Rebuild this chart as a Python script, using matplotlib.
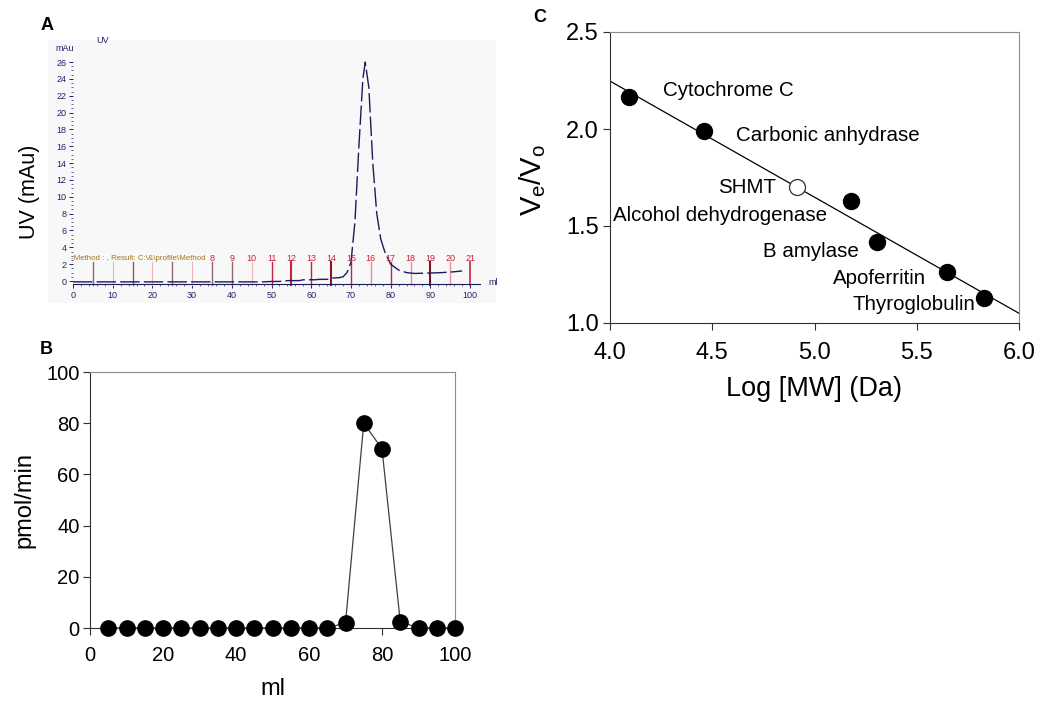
import matplotlib
matplotlib.use("Agg")
import matplotlib.pyplot as plt
from matplotlib.patches import Rectangle
import numpy as np

plt.rcParams['font.family'] = ['Liberation Sans', 'DejaVu Sans']
plt.rcParams['mathtext.fontset'] = 'custom'
plt.rcParams['mathtext.rm'] = 'Liberation Sans'
plt.rcParams['mathtext.it'] = 'Liberation Sans'

# ---------------- Data ----------------
# Panel A: UV chromatogram (ml, mAu)
uv_ml = [0, 3, 8, 15, 17, 30, 48, 50, 52, 54, 57, 58, 61, 62, 64, 65, 67, 68, 69, 70,
         71, 72, 73, 73.6, 74.5, 75.5, 76.5, 77.5, 78.5, 80, 82, 84, 86, 90, 93, 96, 98]
uv_mau = [-0.1, -0.1, -0.1, -0.1, -0.1, -0.1, -0.1, -0.05, -0.05, 0.05, 0.05, 0.15, 0.15,
          0.2, 0.2, 0.35, 0.4, 0.5, 1.0, 2.2, 7, 16, 24, 26, 23, 14, 8, 5, 3.5, 2.0,
          1.3, 1.0, 0.9, 0.95, 1.0, 1.1, 1.2]
frac_ml = [5, 10, 15, 20, 25, 30, 35, 40, 45, 50, 55, 60, 65, 70, 75, 80, 85, 90, 95, 100]
frac_labels = ['8', '9', '10', '11', '12', '13', '14', '15', '16', '17', '18', '19', '20', '21']
frac_label_ml = [35, 40, 45, 50, 55, 60, 65, 70, 75, 80, 85, 90, 95, 100]
method_text = "-Method : , Result: C:\\&\\profile\\Method"

# Panel B: activity
act_ml = [5, 10, 15, 20, 25, 30, 35, 40, 45, 50, 55, 60, 65, 70, 75, 80, 85, 90, 95, 100]
act_pmol = [0, 0, 0, 0, 0, 0, 0, 0, 0, 0, 0, 0, 0, 2, 80, 70, 2.5, 0, 0, 0]

# Panel C: calibration
std_names = ['Cytochrome C', 'Carbonic anhydrase', 'Alcohol dehydrogenase',
             'B amylase', 'Apoferritin', 'Thyroglobulin']
std_logmw = [4.093, 4.46, 5.177, 5.304, 5.649, 5.830]
std_vevo = [2.163, 1.99, 1.629, 1.418, 1.265, 1.131]
shmt_logmw = 4.913
shmt_vevo = 1.703
fit_x = [4.0, 6.0]
fit_y = [2.247, 1.05]
label_pos = {'Cytochrome C': (4.26, 2.2),
             'Carbonic anhydrase': (4.616, 1.969),
             'Alcohol dehydrogenase': (4.015, 1.552),
             'B amylase': (4.748, 1.366),
             'Apoferritin': (5.09, 1.227),
             'Thyroglobulin': (5.188, 1.093)}
shmt_label_pos = (4.528, 1.696)

# ---------------- Figure ----------------
fig = plt.figure(figsize=(10.5, 7.04), dpi=100)

# light grey background of the chromatogram screenshot
fig.patches.append(Rectangle((48 / 1050, 1 - 303 / 704), (496 - 48) / 1050, (303 - 40) / 704,
                             transform=fig.transFigure, facecolor='#f8f8f8',
                             edgecolor='none', zorder=-10))

# ---- Panel A ----
navy = '#22226e'
axA = fig.add_axes([73 / 1050, 1 - 284.4 / 704, 407 / 1050, (284.4 - 45.2) / 704])
axA.set_facecolor('none')
axA.plot(uv_ml, uv_mau, color='#1c1c5c', lw=1.0, ls=(0, (14, 3)), zorder=3)
frac_colors = ['#8a6a6a', '#ebb4bc', '#806060', '#ebb4bc', '#8a6a6a', '#ebb4bc', '#8a6a6a',
               '#8a6a6a', '#ebb4bc', '#c8204a', '#c8203a', '#c8204a', '#901030', '#c8204a',
               '#e890a0', '#c8204a', '#e890a0', '#701830', '#e890a0', '#c8204a']
frac_lw = [1.0, 0.8, 1.0, 0.8, 1.0, 0.8, 1.0, 1.0, 0.8, 1.0, 1.5, 1.0, 1.5, 1.0,
           1.0, 1.0, 1.0, 1.5, 1.0, 1.2]
for x, c, w in zip(frac_ml, frac_colors, frac_lw):
    axA.plot([x, x], [-0.45, 2.25], color=c, lw=w, zorder=2, clip_on=False)
for x, t in zip(frac_label_ml, frac_labels):
    axA.text(x, 2.7, t, color='#c8203a', fontsize=6.5, ha='center', va='center')
axA.text(-0.5, 2.7, method_text, color='#a07818', fontsize=5.7, ha='left', va='center')
axA.set_xlim(0, 102.5)
axA.set_ylim(-0.4, 28)
for s in ['top', 'right', 'left']:
    axA.spines[s].set_visible(False)
axA.spines['bottom'].set_color('#1c1c5c')
axA.spines['bottom'].set_linewidth(0.8)
axA.set_xticks(np.arange(0, 101, 10))
axA.set_xticks(np.arange(0, 101, 2), minor=True)
axA.set_yticks(np.arange(0, 27, 2))
axA.set_yticks(np.arange(0, 26.1, 0.5), minor=True)
axA.tick_params(axis='both', which='major', labelsize=6.5, colors=navy, length=3, width=0.7)
axA.tick_params(axis='both', which='minor', colors=navy, length=1.5, width=0.5)
axA.tick_params(axis='x', direction='out', pad=2)
axA.tick_params(axis='y', pad=1.5)
axA.text(-2, 27.6, 'mAu', color=navy, fontsize=6.5, ha='center', va='center')
axA.text(7.5, 28.6, 'UV', color=navy, fontsize=6.5, ha='center', va='center', clip_on=False)
axA.text(104.5, -0.2, 'ml', color=navy, fontsize=6.5, ha='left', va='center')
fig.text(30 / 1050, 1 - 192 / 704, 'UV (mAu)', rotation=90, fontsize=15.5,
         ha='center', va='center')
fig.text(47 / 1050, 1 - 25 / 704, 'A', fontsize=13, fontweight='bold', ha='center', va='center')

# ---- Panel B ----
axB = fig.add_axes([90 / 1050, 1 - 628 / 704, 365 / 1050, 256 / 704])
axB.plot(act_ml, act_pmol, color='#404040', lw=0.9, marker='o', ms=11,
         mfc='black', mec='black', clip_on=False, zorder=3)
axB.set_xlim(0, 100)
axB.set_ylim(0, 100)
axB.set_xticks(np.arange(0, 101, 20))
axB.set_yticks(np.arange(0, 101, 20))
axB.spines['top'].set_color('#8c8c8c')
axB.spines['right'].set_color('#8c8c8c')
for s in ['left', 'bottom']:
    axB.spines[s].set_color('#303030')
axB.tick_params(labelsize=14.5, direction='out', length=5, width=0.8, color='#303030')
axB.tick_params(axis='x', pad=8)
axB.tick_params(axis='y', pad=2.5)
axB.set_xlabel('ml', fontsize=17, labelpad=9)
axB.set_ylabel('pmol/min', fontsize=17, labelpad=8)
fig.text(46 / 1050, 1 - 349 / 704, 'B', fontsize=13, fontweight='bold', ha='center', va='center')

# ---- Panel C ----
axC = fig.add_axes([610 / 1050, 1 - 323 / 704, 409 / 1050, 291 / 704])
axC.plot(fit_x, fit_y, color='black', lw=0.9, zorder=2)
axC.plot(std_logmw, std_vevo, 'o', ms=11.5, mfc='black', mec='black', zorder=3)
axC.plot([shmt_logmw], [shmt_vevo], 'o', ms=11.5, mfc='white', mec='#303030',
         mew=0.9, zorder=3)
for name in std_names:
    x, y = label_pos[name]
    axC.text(x, y, name, fontsize=14.8, ha='left', va='center')
axC.text(shmt_label_pos[0], shmt_label_pos[1], 'SHMT', fontsize=14.8, ha='left', va='center')
axC.set_xlim(4.0, 6.0)
axC.set_ylim(1.0, 2.5)
axC.set_xticks([4.0, 4.5, 5.0, 5.5, 6.0])
axC.set_yticks([1.0, 1.5, 2.0, 2.5])
axC.xaxis.set_major_formatter(matplotlib.ticker.FormatStrFormatter('%.1f'))
axC.yaxis.set_major_formatter(matplotlib.ticker.FormatStrFormatter('%.1f'))
axC.spines['top'].set_color('#8c8c8c')
axC.spines['right'].set_color('#8c8c8c')
for s in ['left', 'bottom']:
    axC.spines[s].set_color('#303030')
axC.tick_params(labelsize=17, direction='out', length=5, width=0.8, color='#303030')
axC.tick_params(axis='x', pad=9)
axC.tick_params(axis='y', pad=3)
axC.set_xlabel('Log [MW] (Da)', fontsize=19.5, labelpad=8)
fig.text(533 / 1050, 1 - 180 / 704, r'$\mathregular{V_e/V_o}$', rotation=90, fontsize=21,
         ha='center', va='center')
fig.text(540 / 1050, 1 - 18 / 704, 'C', fontsize=13, fontweight='bold', ha='center', va='center')

fig.savefig('out.png', dpi=100)
